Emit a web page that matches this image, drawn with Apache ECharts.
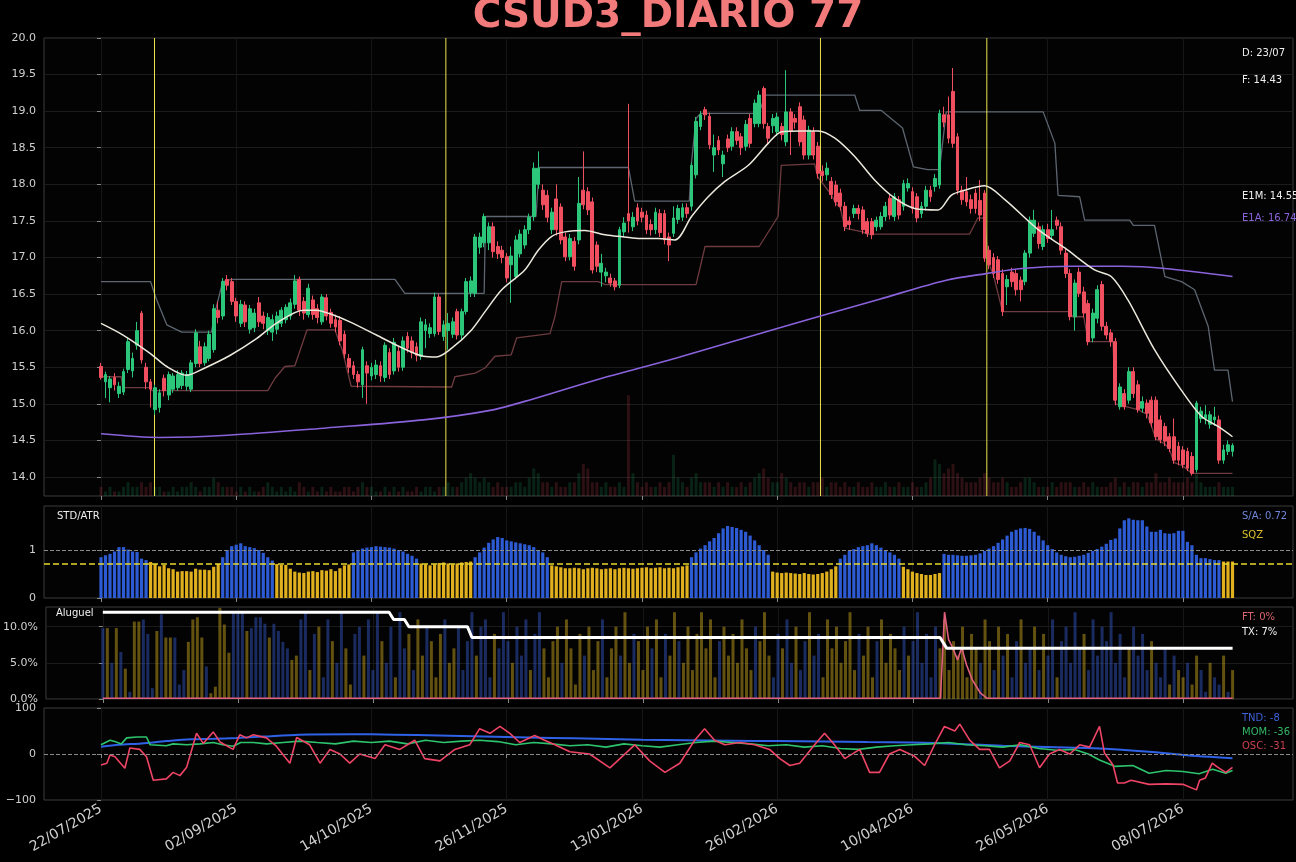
<!DOCTYPE html>
<html>
<head>
<meta charset="utf-8">
<title>CSUD3_DIARIO 77</title>
<script src="https://cdn.jsdelivr.net/npm/echarts@6/dist/echarts.min.js"></script>
<style>
	html, body { margin: 0; padding: 0; background: #000; }
	#main { width: 1296px; height: 862px; }
</style>
</head>
<body>
<div id="main"></div>
<script>
// 日期刻度 (每30个交易日一个)
var tickIdx = [0, 30, 60, 90, 120, 150, 180, 210, 240];
var tickLabels = ['22/07/2025', '02/09/2025', '14/10/2025', '26/11/2025', '13/01/2026', '26/02/2026', '10/04/2026', '26/05/2026', '08/07/2026'];
var priceTicks = [14, 14.5, 15, 15.5, 16, 16.5, 17, 17.5, 18, 18.5, 19, 19.5, 20];

// K线 [open, close, low, high]
var candles = [
	[15.51,15.36,15.33,15.56],[15.30,15.40,15.08,15.44],[15.22,15.34,15.02,15.38],[15.36,15.26,15.18,15.42],[15.14,15.24,15.08,15.30],
	[15.16,15.44,15.12,15.48],[15.47,15.85,15.42,15.90],[15.45,15.62,15.36,15.70],[15.80,16.00,15.74,16.12],[16.24,15.60,15.55,16.27],
	[15.50,15.30,15.20,15.56],[15.30,15.20,14.95,15.34],[14.92,15.22,14.85,15.26],[14.95,15.15,14.88,15.20],[15.35,15.18,15.10,15.40],
	[15.12,15.40,15.05,15.44],[15.20,15.38,15.15,15.42],[15.22,15.40,15.18,15.46],[15.25,15.42,15.20,15.46],[15.24,15.40,15.18,15.45],
	[15.20,15.56,15.16,15.60],[15.55,15.97,15.50,16.02],[15.78,15.55,15.50,15.86],[15.56,15.78,15.52,15.84],[15.62,15.95,15.58,16.00],
	[15.74,16.30,15.70,16.36],[16.28,16.18,16.10,16.40],[16.20,16.67,16.15,16.72],[16.70,16.62,16.55,16.76],[16.67,16.40,16.35,16.72],
	[16.40,16.20,16.12,16.45],[16.10,16.36,16.05,16.42],[16.35,16.12,16.05,16.40],[16.02,16.30,15.96,16.35],[16.04,16.24,15.98,16.30],
	[16.38,16.12,16.05,16.46],[16.20,16.10,16.02,16.26],[16.00,16.18,15.94,16.24],[15.98,16.15,15.86,16.22],[16.02,16.20,15.95,16.26],
	[16.10,16.28,16.05,16.32],[16.15,16.32,16.10,16.36],[16.20,16.38,16.15,16.44],[16.36,16.68,16.30,16.76],[16.70,16.28,16.20,16.74],
	[16.40,16.24,16.15,16.46],[16.22,16.58,16.18,16.64],[16.42,16.22,16.15,16.48],[16.30,16.18,16.10,16.36],[16.12,16.46,16.08,16.50],
	[16.45,16.20,16.14,16.50],[16.25,16.10,16.04,16.30],[16.15,16.05,15.98,16.22],[16.14,15.86,15.80,16.20],[15.95,15.68,15.62,16.00],
	[15.62,15.50,15.42,15.68],[15.52,15.40,15.34,15.58],[15.40,15.30,15.22,15.45],[15.26,15.74,15.08,15.78],[15.52,15.42,15.00,15.58],
	[15.38,15.50,15.32,15.56],[15.40,15.53,15.34,15.60],[15.52,15.38,15.30,15.58],[15.36,15.80,15.30,15.84],[15.70,15.40,15.34,15.76],
	[15.45,15.84,15.40,15.90],[15.72,15.50,15.44,15.78],[15.50,15.86,15.45,15.92],[15.92,15.76,15.70,15.98],[15.86,15.70,15.62,15.92],
	[15.78,15.66,15.58,15.84],[15.65,16.12,15.60,16.18],[16.00,16.08,15.76,16.16],[15.96,16.04,15.90,16.10],[15.96,16.46,15.92,16.52],
	[16.46,15.99,15.94,16.50],[15.92,16.08,15.86,16.14],[16.00,16.10,15.74,16.24],[15.95,16.12,15.90,16.18],[16.26,15.94,15.88,16.30],
	[15.94,16.26,15.88,16.30],[16.26,16.67,16.22,16.72],[16.52,16.68,16.46,16.74],[16.51,17.28,16.46,17.32],[17.14,17.28,17.05,17.34],
	[17.20,17.56,17.14,17.60],[17.20,17.42,17.10,17.48],[17.42,17.08,17.00,17.48],[17.15,17.05,16.98,17.22],[17.10,17.00,16.92,17.16],
	[17.01,16.72,16.66,17.06],[16.90,17.02,16.38,17.15],[16.74,17.24,16.70,17.30],[17.05,17.32,17.00,17.38],[17.17,17.38,17.12,17.44],
	[17.38,17.55,17.32,17.60],[17.56,18.22,17.50,18.30],[18.00,18.22,17.94,18.45],[17.92,17.72,17.65,18.00],[17.85,17.55,17.48,17.92],
	[17.38,17.62,17.32,17.68],[17.80,17.38,17.30,18.00],[17.69,17.24,17.18,17.74],[17.28,17.01,16.95,17.34],[17.01,17.26,16.96,17.32],
	[17.22,16.88,16.82,17.28],[17.24,17.74,17.18,18.10],[17.92,17.72,17.66,18.45],[17.90,17.65,17.58,17.96],[17.76,16.83,16.78,17.82],
	[17.17,16.88,16.80,17.22],[16.80,16.92,16.60,17.05],[16.75,16.80,16.66,16.86],[16.72,16.65,16.60,16.78],[16.68,16.60,16.55,16.72],
	[16.62,17.38,16.58,17.42],[17.35,17.47,17.28,17.55],[17.60,17.50,17.34,19.10],[17.42,17.55,17.36,17.62],[17.68,17.50,17.44,17.74],
	[17.62,17.55,17.48,17.68],[17.58,17.38,17.32,17.64],[17.45,17.38,17.30,17.52],[17.38,17.62,17.32,17.68],[17.60,17.34,17.28,17.66],
	[17.60,17.24,17.18,17.65],[17.28,17.17,16.95,17.34],[17.33,17.54,17.28,17.70],[17.52,17.67,17.46,17.72],[17.55,17.68,17.50,17.74],
	[17.68,17.60,17.54,17.74],[17.70,18.26,17.64,18.30],[18.13,18.86,18.08,18.92],[18.79,18.95,18.74,19.00],[19.02,18.95,18.88,19.06],
	[18.93,18.54,18.48,18.98],[18.40,18.50,18.17,18.68],[18.60,18.47,18.40,18.66],[18.28,18.40,18.10,18.46],[18.62,18.50,18.44,18.68],
	[18.52,18.72,18.46,18.78],[18.72,18.60,18.54,18.78],[18.65,18.50,18.40,18.70],[18.52,18.82,18.46,18.88],[18.90,18.56,18.50,18.96],
	[18.83,19.11,18.78,19.16],[18.83,19.22,18.78,19.28],[19.31,18.83,18.76,19.34],[18.79,18.63,18.55,18.84],[18.80,18.90,18.70,18.96],
	[18.72,18.92,18.66,18.98],[18.79,18.68,18.60,18.84],[18.58,18.99,18.52,19.56],[18.99,18.72,18.40,19.04],[18.90,18.85,18.76,18.96],
	[19.06,18.58,18.52,19.12],[18.88,18.40,18.34,18.94],[18.40,18.74,18.34,18.80],[18.72,18.40,18.34,18.78],[18.52,18.15,18.08,18.58],
	[18.18,18.12,18.04,18.26],[18.13,18.22,18.05,18.30],[18.04,17.86,17.80,18.10],[17.99,17.76,17.70,18.05],[17.88,17.70,17.64,17.94],
	[17.70,17.42,17.36,17.76],[17.50,17.45,17.38,17.56],[17.60,17.67,17.54,17.72],[17.67,17.60,17.52,17.72],[17.65,17.38,17.32,17.70],
	[17.49,17.33,17.28,17.54],[17.49,17.31,17.25,17.54],[17.42,17.51,17.36,17.56],[17.42,17.56,17.38,17.62],[17.56,17.70,17.50,17.76],
	[17.81,17.58,17.52,17.86],[17.56,17.83,17.50,17.88],[17.79,17.58,17.52,17.84],[17.70,18.01,17.64,18.06],[17.95,18.01,17.90,18.08],
	[17.90,17.67,17.60,17.96],[17.83,17.54,17.48,17.88],[17.60,17.70,17.54,17.76],[17.70,17.92,17.64,17.98],[17.92,17.83,17.76,17.98],
	[17.97,18.08,17.90,18.14],[17.99,18.97,17.94,19.02],[18.95,18.85,18.78,19.06],[18.95,18.63,18.56,19.20],[19.27,18.56,18.50,19.59],
	[18.65,17.92,17.86,18.70],[17.92,17.79,17.72,17.98],[17.90,17.76,17.70,18.10],[17.79,17.67,17.60,17.86],[17.88,17.67,17.60,17.94],
	[17.78,17.58,17.50,18.06],[17.88,16.99,16.94,17.92],[17.10,16.90,16.84,17.16],[17.00,16.78,16.72,17.06],[16.97,16.70,16.64,17.02],
	[16.78,16.26,16.20,16.84],[16.60,16.70,16.35,16.76],[16.80,16.67,16.60,16.86],[16.78,16.56,16.48,16.84],[16.69,16.56,16.40,16.74],
	[16.67,17.06,16.62,17.10],[17.06,17.51,17.00,17.56],[17.33,17.51,17.28,17.65],[17.42,17.19,17.12,17.48],[17.15,17.38,17.10,17.44],
	[17.38,17.26,17.20,17.46],[17.30,17.38,17.24,17.65],[17.51,17.44,17.38,17.56],[17.42,17.10,17.04,17.48],[17.06,16.78,16.72,17.12],
	[16.78,16.19,16.14,16.84],[16.19,16.65,16.00,16.70],[16.80,16.51,16.46,16.86],[16.53,16.24,16.18,16.60],[16.37,15.85,15.80,16.42],
	[15.90,16.24,15.84,16.30],[16.17,16.56,16.10,16.62],[16.63,16.06,16.00,16.68],[16.06,15.94,15.88,16.12],[15.97,15.85,15.78,16.02],
	[15.85,15.05,14.98,15.90],[14.96,15.23,14.92,15.28],[15.14,14.96,14.92,15.20],[15.05,15.44,15.00,15.50],[15.44,15.14,15.08,15.50],
	[15.26,14.92,14.88,15.32],[14.94,15.03,14.88,15.10],[15.01,14.87,14.80,15.06],[15.05,14.74,14.68,15.10],[15.05,14.55,14.50,15.10],
	[14.78,14.51,14.46,14.84],[14.69,14.49,14.42,14.74],[14.55,14.39,14.34,14.60],[14.55,14.23,14.18,14.80],[14.42,14.23,14.16,14.48],
	[14.37,14.17,14.12,14.42],[14.35,14.12,14.08,14.40],[14.28,14.05,14.02,14.34],[14.10,15.01,14.06,15.04],[14.80,14.90,14.74,14.96],
	[14.80,14.85,14.72,14.98],[14.72,14.85,14.66,14.90],[14.78,14.82,14.70,14.96],[14.78,14.23,14.18,14.84],[14.23,14.37,14.18,14.44],
	[14.35,14.44,14.30,14.50],[14.35,14.43,14.28,14.46]
];

// 成交量 (相对值)
var volume = [
	2,1,2,1,1,2,3,2,2,3,2,3,2,2,1,1,2,1,2,2,3,2,1,2,2,4,3,2,2,2,
	1,2,1,2,1,1,2,3,2,1,2,1,2,1,3,2,1,2,1,2,1,2,1,1,2,2,1,2,3,2,
	2,1,1,2,1,2,1,2,1,1,2,1,2,2,1,2,2,3,2,2,3,4,5,4,3,4,3,2,3,2,
	2,2,3,3,2,4,6,5,3,3,2,3,2,2,3,3,5,7,6,3,3,2,3,2,2,3,2,22,5,3,
	2,3,2,2,3,2,3,9,4,3,2,4,5,3,3,3,2,3,2,3,2,2,3,2,3,4,5,6,4,3,
	3,5,4,3,2,3,3,2,3,3,4,2,3,3,2,3,2,2,3,2,2,3,2,2,3,2,2,3,2,2,
	3,2,2,3,4,8,7,5,6,7,5,4,3,3,3,4,5,4,3,3,4,3,2,2,3,4,4,3,2,2,
	2,3,2,3,3,3,2,2,3,2,3,2,2,2,3,4,2,3,2,3,3,2,3,3,5,3,3,4,3,3,
	3,4,3,5,3,2,2,2,3,2,2,2
];

// 均线与通道 [index, value]
var e1m = [[0,16.10],[4.9,15.94],[10.9,15.69],[14.6,15.51],[19,15.39],[22.7,15.48],[28.6,15.66],[34.5,15.89],[38.9,16.10],[44.9,16.28],[47.8,16.28],[50.8,16.23],[55.2,16.12],[61.1,15.94],[66.3,15.78],[71.5,15.65],[74.4,15.64],[77.8,15.76],[82.2,16.01],[85.2,16.26],[88.9,16.56],[94,16.83],[97,17.10],[100,17.29],[102.9,17.35],[107.3,17.37],[111.8,17.31],[114.7,17.29],[119.2,17.26],[123.6,17.26],[127.3,17.24],[131,17.56],[134.7,17.83],[138.4,18.04],[143.6,18.26],[148,18.56],[151,18.72],[155.4,18.73],[159.1,18.73],[162.8,18.63],[167.2,18.38],[171.6,18.06],[176.1,17.81],[180.5,17.67],[185.7,17.65],[188.6,17.85],[191.6,17.92],[196,17.98],[200.5,17.79],[207.9,17.38],[213.8,17.13],[220.4,16.83],[224.1,16.74],[227.8,16.42],[233.7,15.74],[239.6,15.19],[244.1,14.83],[247.8,14.69],[251,14.55]];
var e1a = [[0,14.59],[13,14.54],[28,14.57],[50,14.67],[71.5,14.78],[86.3,14.91],[95.5,15.06],[110,15.33],[128.4,15.64],[150,16.03],[172.7,16.43],[187.5,16.69],[196.4,16.78],[204.2,16.85],[215.3,16.88],[226.4,16.88],[236,16.85],[251,16.74]];
var upperBand = [[0,16.67],[11,16.67],[12.3,16.43],[14.6,16.08],[17.9,15.98],[24.5,15.98],[25.5,16.30],[27,16.67],[29,16.70],[65.2,16.70],[67.4,16.51],[85,16.51],[85.3,17.56],[96.5,17.56],[97.2,18.23],[117,18.23],[118.4,17.77],[130.5,17.77],[131,18.30],[132,18.90],[133,18.97],[146,18.97],[147.3,19.22],[167.2,19.22],[168.3,19.01],[173.1,19.01],[177.8,18.77],[180.2,18.24],[183.4,18.20],[186,18.20],[187.5,18.99],[209,18.99],[211.6,18.56],[212.3,17.85],[217.1,17.83],[218.2,17.51],[228.2,17.51],[229,17.44],[233.7,17.44],[236,16.74],[239.7,16.67],[242.6,16.56],[245.6,16.06],[247,15.46],[250,15.46],[251,15.03]];
var lowerBand = [[0,15.37],[4.5,15.37],[4.8,15.22],[10.9,15.22],[11.3,15.18],[37,15.18],[38.6,15.35],[40.8,15.51],[43,15.52],[45.7,16.01],[51.9,16.01],[53.5,15.74],[55.5,15.24],[77.8,15.23],[78.5,15.37],[83,15.42],[85.2,15.49],[87.4,15.65],[91,15.67],[92.2,15.90],[99.6,15.96],[100.7,16.19],[102.2,16.67],[110.3,16.67],[111.8,16.63],[132,16.63],[134,17.15],[146,17.15],[150.2,17.56],[150.9,18.26],[158.3,18.28],[159,18.10],[162,17.86],[163,17.74],[164,17.68],[165,17.40],[169,17.35],[170,17.32],[192.7,17.32],[194.5,17.54],[196,17.54],[196.8,16.95],[198,16.75],[200,16.26],[215,16.26],[215.5,16.19],[218,16.19],[219,15.85],[224.5,15.85],[225,15.00],[230,14.92],[232,14.86],[233,14.70],[234,14.52],[236,14.45],[237,14.38],[238,14.20],[240,14.15],[241,14.10],[242,14.05],[251,14.05]];
var signalLines = [11.87, 76.5, 159.6, 196.5];
var priceRange = [13.74, 20];

// STD/ATR
var stdAtr = [
	0.85,0.89,0.92,0.97,1.06,1.06,1.01,0.97,0.96,0.82,0.79,
	0.75,0.71,0.66,0.69,0.62,0.60,0.55,0.56,0.56,0.55,0.61,0.59,0.59,0.58,0.65,0.71,
	0.85,1.00,1.08,1.11,1.14,1.08,1.06,1.04,1.00,0.94,0.85,0.78,
	0.71,0.69,0.69,0.61,0.55,0.53,0.52,0.55,0.56,0.54,0.58,0.57,0.60,0.56,0.62,0.68,0.70,
	0.95,1.00,1.03,1.05,1.06,1.08,1.07,1.06,1.05,1.03,1.00,0.97,0.92,0.88,0.82,
	0.72,0.70,0.68,0.70,0.73,0.74,0.72,0.70,0.72,0.74,0.75,0.76,
	0.85,0.95,1.05,1.15,1.22,1.27,1.25,1.20,1.18,1.16,1.14,1.12,1.10,1.06,1.00,0.95,0.85,
	0.68,0.66,0.64,0.62,0.62,0.63,0.62,0.60,0.62,0.63,0.62,0.60,0.61,0.62,0.60,0.62,0.63,0.62,0.61,0.62,0.63,0.64,0.62,0.63,0.64,0.62,0.63,0.62,0.64,0.66,0.68,
	0.85,0.95,1.03,1.10,1.18,1.25,1.35,1.45,1.50,1.48,1.46,1.42,1.38,1.30,1.20,1.10,1.00,0.90,
	0.55,0.53,0.52,0.53,0.52,0.51,0.50,0.52,0.50,0.49,0.50,0.52,0.55,0.60,0.66,
	0.82,0.90,0.98,1.02,1.06,1.08,1.10,1.14,1.10,1.05,1.00,0.95,0.90,0.82,
	0.65,0.60,0.55,0.52,0.50,0.48,0.48,0.50,0.52,
	0.92,0.90,0.90,0.89,0.88,0.88,0.89,0.90,0.93,0.98,1.03,1.08,1.15,1.22,1.30,1.38,1.42,1.45,1.46,1.44,1.38,1.30,1.20,1.10,1.02,0.95,0.90,0.87,0.85,0.86,0.88,0.90,0.94,0.98,1.02,
	1.07,1.13,1.21,1.24,1.45,1.62,1.66,1.63,1.62,1.62,1.49,1.38,1.38,1.42,1.35,1.34,1.35,1.40,1.40,1.17,1.10,0.90,0.83,0.83,0.81,0.79,0.79,
	0.76,0.76,0.76
];
var sqzRanges = [[11,26],[39,55],[71,82],[100,130],[149,163],[178,186],[249,251]];
var saLevel = 0.72;

// 租借 (Aluguel)
var aluguel = [
	.098,.098,.050,.098,.065,.042,.010,.107,.107,.110,
	.090,.015,.094,.117,.085,.085,.085,.020,.040,.079,
	.110,.113,.085,.045,.008,.017,.126,.103,.064,.120,
	.120,.120,.094,.098,.113,.113,.104,.085,.104,.094,
	.079,.070,.054,.060,.110,.120,.040,.090,.100,.030,
	.110,.080,.050,.120,.070,.020,.090,.100,.060,.110,
	.040,.120,.080,.050,.100,.030,.120,.070,.090,.040,
	.110,.060,.100,.080,.030,.090,.110,.050,.070,.100,
	.040,.080,.120,.060,.100,.110,.030,.090,.070,.120,
	.080,.050,.100,.060,.110,.040,.090,.120,.070,.030,
	.080,.100,.050,.110,.070,.020,.090,.060,.100,.040,
	.080,.110,.030,.070,.100,.060,.120,.050,.090,.080,
	.040,.100,.070,.110,.030,.090,.060,.120,.080,.050,
	.100,.040,.090,.120,.070,.110,.030,.080,.100,.060,
	.090,.050,.110,.070,.040,.100,.080,.120,.060,.030,
	.090,.070,.110,.050,.100,.040,.080,.120,.060,.090,
	.030,.110,.070,.100,.050,.080,.120,.040,.090,.060,
	.100,.030,.080,.110,.050,.090,.070,.040,.100,.060,
	.080,.120,.050,.090,.030,.100,.070,.110,.040,.080,
	.060,.100,.030,.090,.070,.050,.110,.080,.040,.100,
	.060,.090,.030,.080,.110,.050,.070,.100,.040,.090,
	.060,.110,.030,.080,.100,.050,.120,.070,.090,.040,
	.110,.060,.100,.080,.120,.050,.090,.030,.070,.100,
	.060,.090,.040,.080,.050,.030,.070,.020,.060,.040,
	.030,.050,.020,.060,.040,.010,.050,.030,.020,.060,
	.010,.040
];
var aluColors = 'bybybybyyb' + 'bbybyybbby' + 'yyybyyyyyb' + 'bbybbbbybb' + 'bby' +
	'ybbybyb' + 'bybbyybbyb' + 'bbybbybbyb' + 'yybyyybyyb' + 'bbbybbbybb' +
	'bybbbybbyy' + 'yybyyyybyy' + 'ybyyybyyby' + 'yybyybyyby' + 'yyyyyyybyy' +
	'yyyyybyyyb' + 'bybbybbybb' + 'yyyyyyyyby' + 'yybyyyyyby' + 'bbbbbbyyyy' +
	'yyyyybyyby' + 'bybbybbyby' + 'bbybbbbbyb' + 'bbbbbbbbyb' + 'bbbybbbyby' +
	'ybyybbybby' + 'by';
var taxa = [[0,0.12],[63.6,0.12],[64.6,0.11],[67,0.11],[68,0.10],[81,0.10],[82,0.085],[186,0.085],[187.5,0.07],[251,0.07]];
var ft = [[0,0.001],[186.1,0.001],[187,0.12],[187.9,0.082],[188.8,0.071],[189.9,0.054],[190.8,0.071],[191.9,0.047],[193.2,0.026],[195,0.008],[196.5,0.001],[251,0.001]];

// 振荡指标
var tnd = [[0,16],[4,20],[9,23],[14.5,28],[20,32],[25,33],[30,35],[36,38],[44,42],[55,43],[65,42],[75,40],[90,37],[100,35],[110,33],[120,31],[130,30],[140,29],[150,28],[160,27],[170,26],[180,25],[190,22],[200,18],[210,15],[221.5,12],[232.5,5],[240,-2],[251,-9]];
var mom = [[0,20],[2,30],[3.1,27],[4.5,22],[5.7,35],[8,37],[10.1,37],[10.9,20],[14.5,18],[16,22],[19,20],[22,22],[24.9,25],[27,20],[29.3,17],[31,25],[33.8,25],[36.7,22],[40.4,25],[44.1,28],[48,25],[52,22],[56,28],[60,25],[64,28],[68,22],[72,30],[76,25],[80,28],[84,30],[88,27],[92,20],[96,25],[100,22],[104,18],[108,20],[112,15],[116,22],[120,18],[124,15],[128,20],[132,25],[136,28],[140,25],[144,22],[148,18],[152,20],[156,15],[160,18],[164,12],[168,10],[172,15],[176,18],[180,20],[184,22],[188,25],[192,20],[196,18],[200,15],[204,20],[208,12],[212,8],[216,10],[219,0],[221.5,-13],[225,-27],[228.9,-25],[232.5,-42],[236.3,-36],[240,-38],[243.6,-43],[246.6,-33],[249.5,-42],[251,-36]];
var osc = [[0,-24],[1.3,-20],[2,-2],[3.1,-6],[5.3,-31],[6.4,13],[8.6,10],[10.1,-6],[11.6,-57],[14.5,-54],[16,-40],[17.5,-47],[19,-29],[21.2,45],[22.7,23],[24.9,48],[26.4,26],[29.3,10],[30.8,42],[32.3,35],[33.8,42],[36.7,35],[38.9,17],[41.9,-20],[43.4,36],[46.3,20],[48.6,-20],[50.8,10],[53,0],[55.2,-20],[57.4,0],[60.8,-10],[63,20],[66.3,10],[69.6,30],[71.8,-10],[75.2,-15],[78.5,10],[81.8,20],[84,55],[86.3,45],[88.5,60],[90.7,45],[92.9,25],[96.2,40],[98.4,30],[100.7,20],[104,5],[108.4,0],[112.9,-30],[115.1,-10],[118.4,20],[121.7,-15],[125.1,-40],[128.4,-20],[131.7,30],[133.9,55],[136.1,30],[138.4,20],[141.7,25],[145,20],[148.3,10],[150.6,-10],[152.8,-25],[155,-20],[158.3,20],[160.5,45],[162.7,20],[165,-10],[168.3,10],[170.5,-40],[172.7,-40],[174.9,0],[177.2,10],[180.5,-5],[182.7,-25],[184.9,20],[187.1,60],[189.4,50],[190.5,65],[192.7,30],[194.9,10],[197.1,10],[199.3,-30],[201.6,-15],[203.8,25],[206,20],[208.2,-30],[210.4,0],[212.6,10],[214.9,0],[217.1,20],[219.3,15],[221.5,60],[222.6,2],[224.5,-24],[225.5,-63],[227,-63],[228.5,-57],[232.5,-66],[236.3,-65],[240,-66],[243,-78],[243.7,-57],[245,-52],[246.5,-20],[247.6,-28],[249.5,-40],[251,-29]];

var UP = '#2bc67a', DOWN = '#ef4f5f';
var BLUE = '#2d5bd4', YELLOW = '#e0b01e';
var SIGNAL = '#ece44e';

function inSqz(i) {
	for (var k = 0; k < sqzRanges.length; k++) {
		if (i >= sqzRanges[k][0] && i <= sqzRanges[k][1]) return true;
	}
	return false;
}

var gridTops = [38, 506, 607, 708];
var gridHeights = [458, 92, 92, 92];

function makeX(k) {
	return {
		type: 'value', gridIndex: k, min: -12.64, max: 264.42,
		axisLine: { show: false },
		axisTick: { show: true, customValues: tickIdx, length: 4, lineStyle: { color: '#888' } },
		axisLabel: {
			show: k === 3, customValues: tickIdx, rotate: 30, fontSize: 14, color: '#d0d0d0',
			fontFamily: 'DejaVu Sans', margin: 8,
			formatter: function (v) { return tickLabels[tickIdx.indexOf(v)] || ''; }
		},
		splitLine: { show: true, lineStyle: { color: '#161616' } }
	};
}

var yLabel = { color: '#d0d0d0', fontSize: 11, fontFamily: 'DejaVu Sans' };
var yTick = { length: 4, lineStyle: { color: '#888' } };

var myChart = echarts.init(document.getElementById('main'));

// 信号竖线: 每条一个独立的两点折线
var signalSeries = signalLines.map(function (x) {
	return {
		type: 'line', xAxisIndex: 0, yAxisIndex: 0, z: 2, silent: true,
		data: [[x, priceRange[0]], [x, priceRange[1]]],
		showSymbol: false,
		lineStyle: { color: SIGNAL, width: 1 }
	};
});

var option = {
	backgroundColor: '#000',
	animation: false,
	grid: gridTops.map(function (t, k) {
		return { left: 44, right: 3, top: t, height: gridHeights[k], show: true, borderColor: '#3c3c3c', borderWidth: 1, backgroundColor: '#030303' };
	}),
	xAxis: [makeX(0), makeX(1), makeX(2), makeX(3)],
	yAxis: [
		{
			type: 'value', gridIndex: 0, min: priceRange[0], max: priceRange[1],
			axisLine: { show: false },
			axisTick: Object.assign({ customValues: priceTicks }, yTick),
			axisLabel: Object.assign({ customValues: priceTicks, formatter: function (v) { return v.toFixed(1); } }, yLabel),
			splitLine: { lineStyle: { color: '#1c1c1c' } }
		},
		{ type: 'value', gridIndex: 0, min: 0, max: 100, show: false, splitLine: { show: false } },
		{
			type: 'value', gridIndex: 1, min: 0, max: 1.917,
			axisLine: { show: false },
			axisTick: Object.assign({ customValues: [0, 1] }, yTick),
			axisLabel: Object.assign({ customValues: [0, 1] }, yLabel),
			splitLine: { show: false }
		},
		{
			type: 'value', gridIndex: 2, min: 0, max: 0.1272,
			axisLine: { show: false },
			axisTick: Object.assign({ customValues: [0, 0.05, 0.1] }, yTick),
			axisLabel: Object.assign({ customValues: [0, 0.05, 0.1], formatter: function (v) { return (v * 100).toFixed(1) + '%'; } }, yLabel),
			splitLine: { lineStyle: { color: '#1a1a1a' } }
		},
		{
			type: 'value', gridIndex: 3, min: -100, max: 100, interval: 100,
			axisLine: { show: false },
			axisTick: yTick,
			axisLabel: Object.assign({ formatter: function (v) { return v < 0 ? '\u2212' + (-v) : String(v); } }, yLabel),
			splitLine: { show: false }
		}
	],
	series: [
		// 通道
		{ type: 'line', xAxisIndex: 0, yAxisIndex: 0, data: upperBand, showSymbol: false, lineStyle: { color: '#5d6670', width: 1.3 }, z: 2 },
		{ type: 'line', xAxisIndex: 0, yAxisIndex: 0, data: lowerBand, showSymbol: false, lineStyle: { color: '#6e3b40', width: 1.3 }, z: 2 },
		// 成交量
		{
			type: 'bar', xAxisIndex: 0, yAxisIndex: 1, barWidth: 3, z: 1,
			data: volume.map(function (v, i) {
				var up = candles[i][1] >= candles[i][0];
				return { value: [i, v], itemStyle: { color: up ? 'rgba(43,198,122,0.16)' : 'rgba(239,79,95,0.18)' } };
			})
		},
		// K线
		{
			type: 'candlestick', xAxisIndex: 0, yAxisIndex: 0, barWidth: 3.3, z: 3,
			data: candles.map(function (r, i) { return [i, r[0], r[1], r[2], r[3]]; }),
			itemStyle: { color: UP, color0: DOWN, borderColor: UP, borderColor0: DOWN, borderWidth: 1 }
		},
		// 均线
		{ type: 'line', xAxisIndex: 0, yAxisIndex: 0, data: e1a, showSymbol: false, smooth: 0.3, lineStyle: { color: '#8a63dc', width: 1.6 }, z: 4 },
		{ type: 'line', xAxisIndex: 0, yAxisIndex: 0, data: e1m, showSymbol: false, smooth: 0.3, lineStyle: { color: '#ece9dc', width: 1.5 }, z: 4 },

		// STD/ATR
		{
			type: 'bar', xAxisIndex: 1, yAxisIndex: 2, barWidth: 3.2,
			data: stdAtr.map(function (v, i) { return { value: [i, v], itemStyle: { color: inSqz(i) ? YELLOW : BLUE } }; }),
			markLine: {
				silent: true, symbol: 'none', label: { show: false },
				data: [
					{ yAxis: 1, lineStyle: { color: '#8a8a8a', type: 'dashed', width: 1 } },
					{ yAxis: saLevel, lineStyle: { color: '#e6d830', type: 'dashed', width: 1.5 } }
				]
			}
		},

		// Aluguel
		{
			type: 'bar', xAxisIndex: 2, yAxisIndex: 3, barWidth: 3,
			data: aluguel.map(function (v, i) {
				return { value: [i, v], itemStyle: { color: aluColors.charAt(i) === 'y' ? 'rgba(196,160,30,0.5)' : 'rgba(50,84,190,0.5)' } };
			})
		},
		{ type: 'line', xAxisIndex: 2, yAxisIndex: 3, data: ft, showSymbol: false, lineStyle: { color: '#e0607e', width: 1.6 } },
		{ type: 'line', xAxisIndex: 2, yAxisIndex: 3, data: taxa, showSymbol: false, lineStyle: { color: '#ffffff', width: 3 } },

		// 振荡
		{
			type: 'line', xAxisIndex: 3, yAxisIndex: 4, data: tnd, showSymbol: false, smooth: 0.3,
			lineStyle: { color: '#2f62e6', width: 2 },
			markLine: {
				silent: true, symbol: 'none', label: { show: false },
				data: [{ yAxis: 0, lineStyle: { color: '#8a8a8a', type: 'dashed', width: 1 } }]
			}
		},
		{ type: 'line', xAxisIndex: 3, yAxisIndex: 4, data: mom, showSymbol: false, lineStyle: { color: '#2ec46e', width: 1.6 } },
		{ type: 'line', xAxisIndex: 3, yAxisIndex: 4, data: osc, showSymbol: false, lineStyle: { color: '#ee4466', width: 1.6 } }
	].concat(signalSeries),
	graphic: [
		{ type: 'text', x: 668, y: 17, style: { text: 'CSUD3_DIARIO 77', fill: '#f27a7a', font: 'bold 39px "DejaVu Sans"', textAlign: 'center', textVerticalAlign: 'middle' } },
		{ type: 'text', x: 1242, y: 53, style: { text: 'D: 23/07', fill: '#f0f0f0', font: '10px "DejaVu Sans"', textVerticalAlign: 'middle' } },
		{ type: 'text', x: 1242, y: 80, style: { text: 'F: 14.43', fill: '#f0f0f0', font: '10px "DejaVu Sans"', textVerticalAlign: 'middle' } },
		{ type: 'text', x: 1242, y: 196, style: { text: 'E1M: 14.55', fill: '#f0f0f0', font: '10px "DejaVu Sans"', textVerticalAlign: 'middle' } },
		{ type: 'text', x: 1242, y: 218, style: { text: 'E1A: 16.74', fill: '#8a63dc', font: '10px "DejaVu Sans"', textVerticalAlign: 'middle' } },
		{ type: 'text', x: 57, y: 516, style: { text: 'STD/ATR', fill: '#f0f0f0', font: '10px "DejaVu Sans"', textVerticalAlign: 'middle' } },
		{ type: 'text', x: 1242, y: 516, style: { text: 'S/A: 0.72', fill: '#6f86d6', font: '10px "DejaVu Sans"', textVerticalAlign: 'middle' } },
		{ type: 'text', x: 1242, y: 535, style: { text: 'SQZ', fill: '#d8c030', font: '10px "DejaVu Sans"', textVerticalAlign: 'middle' } },
		{ type: 'text', x: 56, y: 613, style: { text: 'Aluguel', fill: '#f0f0f0', font: '10px "DejaVu Sans"', textVerticalAlign: 'middle' } },
		{ type: 'text', x: 1242, y: 617, style: { text: 'FT: 0%', fill: '#d8666e', font: '10px "DejaVu Sans"', textVerticalAlign: 'middle' } },
		{ type: 'text', x: 1242, y: 632, style: { text: 'TX: 7%', fill: '#f0f0f0', font: '10px "DejaVu Sans"', textVerticalAlign: 'middle' } },
		{ type: 'text', x: 1242, y: 718, style: { text: 'TND: -8', fill: '#3f63d8', font: '10px "DejaVu Sans"', textVerticalAlign: 'middle' } },
		{ type: 'text', x: 1242, y: 732, style: { text: 'MOM: -36', fill: '#33b866', font: '10px "DejaVu Sans"', textVerticalAlign: 'middle' } },
		{ type: 'text', x: 1242, y: 746, style: { text: 'OSC: -31', fill: '#c9414f', font: '10px "DejaVu Sans"', textVerticalAlign: 'middle' } }
	]
};

myChart.setOption(option);
</script>
</body>
</html>
